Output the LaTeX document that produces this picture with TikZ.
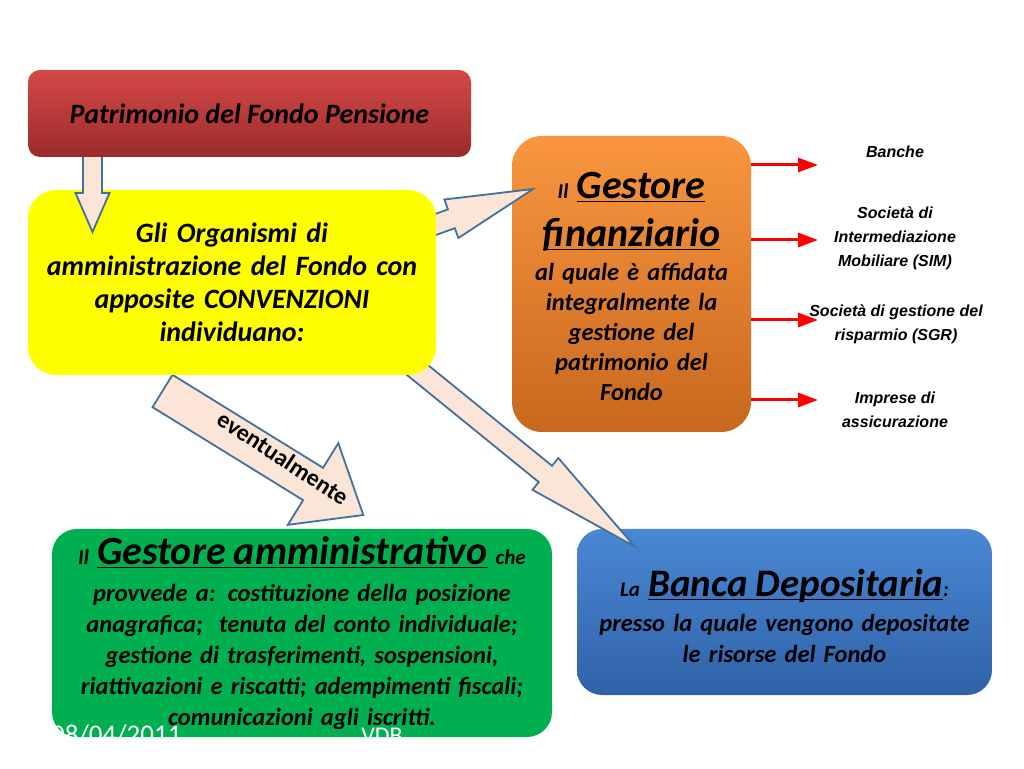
\documentclass[tikz,border=0pt]{standalone}
\usepackage{fontspec}
\setmainfont{Carlito}
\newfontfamily\arialfont{Liberation Sans}
\usetikzlibrary{arrows.meta}

\definecolor{arrowfill}{HTML}{FBE5D6}
\definecolor{arrowline}{HTML}{41719C}
\definecolor{patrtop}{HTML}{D44A48}
\definecolor{patrbot}{HTML}{9A2B2B}
\definecolor{fintop}{HTML}{F9963F}
\definecolor{finbot}{HTML}{C8681E}
\definecolor{deptop}{HTML}{4A88D4}
\definecolor{depbot}{HTML}{2F62A8}
\definecolor{ammgreen}{HTML}{00B050}
\definecolor{orgyellow}{HTML}{FFFF00}

\tikzset{
  box/.style={rounded corners=#1, align=center, inner sep=0pt},
  blockarrow/.style={draw=arrowline, fill=arrowfill, line width=1.8pt},
  redarrow/.style={draw=red, line width=3pt, -{Triangle[length=20pt,width=14pt]}},
  sidetext/.style={align=center, font=\arialfont\bfseries\itshape\fontsize{16}{24}\selectfont},
  datetext/.style={text=white, font=\fontsize{27}{27}\selectfont}
}

% thick underline
\newcommand{\thickuline}[1]{\leavevmode\setbox0\hbox{#1}\rlap{\rule[-4pt]{\wd0}{1.6pt}}\box0}

% start, angle, length, shaft half width, head half width, head length
\newcommand{\blockarrow}[6]{%
  \begin{scope}[shift={(#1)}, rotate=#2]
    \draw[blockarrow] (0,-#4) -- (#3-#6,-#4) -- (#3-#6,-#5) -- (#3,0)
      -- (#3-#6,#5) -- (#3-#6,#4) -- (0,#4) -- cycle;
  \end{scope}}

\begin{document}
\lineskiplimit=-100pt
\begin{tikzpicture}[x=1pt, y=1pt]
    \fill[white] (0,0) rectangle (1024,768);
    \useasboundingbox (0,0) rectangle (1024,768);

    % target boxes
    \node[box=30pt, top color=fintop, bottom color=finbot, minimum width=239pt,
      minimum height=296pt, text width=235pt,
      font=\bfseries\itshape\fontsize{24.5}{30}\selectfont] (fin) at (631.5,484)
      {\mbox{}\\[1pt]
       {\fontsize{21}{30}\selectfont Il }{\fontsize{40}{30}\selectfont\thickuline{Gestore}}\\[15pt]
       {\fontsize{40}{30}\selectfont\thickuline{finanziario}}\\[4pt]
       al quale è affidata\\ integralmente la\\ gestione del\\ patrimonio del\\ Fondo};
    \node[box=25pt, top color=deptop, bottom color=depbot, minimum width=415pt,
      minimum height=166pt, text width=410pt,
      font=\bfseries\itshape\fontsize{24.5}{31}\selectfont] (dep) at (784.5,156)
      {\mbox{}\\[4pt]
       {\fontsize{21}{31}\selectfont La }{\fontsize{39}{31}\selectfont\thickuline{Banca Depositaria}}{\fontsize{21}{31}\selectfont :}\\[4pt]
       presso la quale vengono depositate\\ le risorse del Fondo};
    \node[box=25pt, fill=ammgreen, minimum width=500pt, minimum height=208pt, text width=495pt,
      font=\bfseries\itshape\fontsize{24.5}{31}\selectfont] (amm) at (302,135)
      {{\fontsize{21}{31}\selectfont Il }{\fontsize{40}{31}\selectfont\thickuline{Gestore amministrativo}} {\fontsize{21}{31}\selectfont che}\\[6pt]
       provvede a: costituzione della posizione\\ anagrafica;~ tenuta del conto individuale;\\
       gestione di trasferimenti, sospensioni,\\ riattivazioni e riscatti; adempimenti fiscali;\\
       comunicazioni agli iscritti.};

    % arrows out of the yellow box
    \coordinate (s1) at (426,540);
    \coordinate (s2) at (399.5,412.6);
    \coordinate (s3) at (162.5,377);
    \blockarrow{s1}{20}{114}{10}{20.5}{87}
    \blockarrow{s2}{-39.1}{303}{10.5}{20.5}{115}
    \blockarrow{s3}{-31.7}{236}{19}{48}{59}
    \node[rotate=-33, font=\bfseries\fontsize{24}{24}\selectfont] (evlabel) at (283,310) {eventualmente};

    \node[box=28pt, fill=orgyellow, minimum width=408pt, minimum height=185pt, text width=400pt,
      font=\bfseries\itshape\fontsize{28}{33}\selectfont] (org) at (232,485.5)
      {Gli Organismi di\\ amministrazione del Fondo con\\ apposite CONVENZIONI\\ individuano:};

    % arrow out of the red box
    \coordinate (s0) at (92.5,618);
    \blockarrow{s0}{-90}{82}{9.5}{17}{39}
    \node[box=12pt, top color=patrtop, bottom color=patrbot, minimum width=443pt,
      minimum height=87pt, font=\bfseries\itshape\fontsize{28}{30}\selectfont] (patr) at (249.5,654.5)
      {Patrimonio del Fondo Pensione};

    % financial intermediaries
    \foreach \name/\yy in {a/603, b/528, c/448, d/368} {
        \coordinate (end\name) at (818,\yy);
        \draw[redarrow] (fin.east |- end\name) -- (end\name);
    }
    \node[sidetext] (banche) at (895,616) {Banche};
    \node[sidetext] (sim) at (895,530) {Società di\\ Intermediazione\\ Mobiliare (SIM)};
    \node[sidetext] (sgr) at (896,444) {Società di gestione del\\ risparmio (SGR)};
    \node[sidetext] (assic) at (895,358) {Imprese di\\ assicurazione};

    % footer
    \node[datetext, anchor=base east] (date) at (185,25) {08/04/2011};
    \node[datetext, anchor=base, font=\fontsize{24}{24}\selectfont] (vdb) at (382,25) {VDB};
\end{tikzpicture}
\end{document}
